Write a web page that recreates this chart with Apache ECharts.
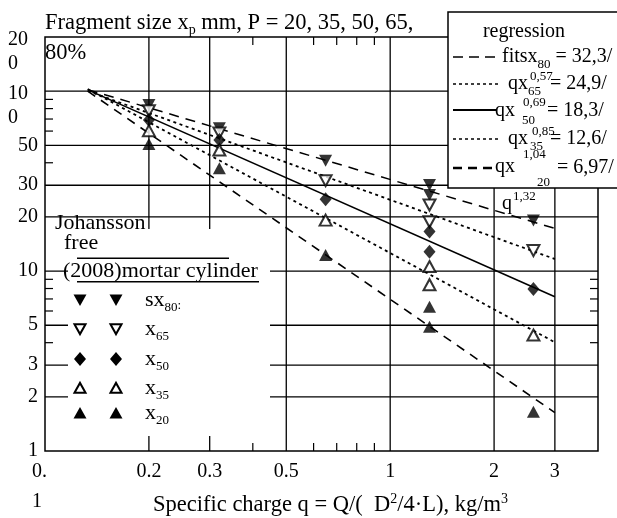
<!DOCTYPE html>
<html>
<head>
<meta charset="utf-8">
<title>Fragment size vs specific charge</title>
<script src="https://cdn.jsdelivr.net/npm/echarts@6.0.0/dist/echarts.min.js"></script>
<style>
html, body { margin: 0; padding: 0; background: #fff; }
#chart { width: 617px; height: 518px; }
</style>
</head>
<body>
<div id="chart"></div>
<script>
// Specific charge of each test blast, kg/m³ (two shots at 1.3)
const charges = [0.2, 0.32, 0.65, 1.3, 1.3, 2.6];
// Passing sizes x_P in mm for P = 80, 65, 50, 35, 20 %
const x80 = [83.8, 62.2, 41.1, 30.1, 26.5, 19.1];
const x65 = [77.9, 58.6, 31.8, 23.3, 18.8, 13.0];
const x50 = [69.2, 53.5, 25.1, 16.6, 12.8, 7.95];
const x35 = [60.3, 47.1, 19.2, 10.6, 8.4, 4.41];
const x20 = [50.9, 37.3, 12.3, 6.34, 4.91, 1.65];

// Regression fits x_P = a / q^b
const fitA = [32.3, 24.9, 18.3, 12.6, 6.97];
const fitB = [0.57, 0.69, 0.85, 1.04, 1.32];
const fitRange = [0.133, 3];

// Axis ticks and labels
const xTickValues = [0.1, 0.2, 0.3, 0.5, 1, 2, 3];
const xTickText = ['0.\n1', '0.2', '0.3', '0.5', '1', '2', '3'];
const xGridValues = [0.2, 0.3, 0.5, 1, 2, 3];
const xMinorValues = [0.4, 0.6, 0.7, 0.8, 0.9];
const yTickValues = [1, 2, 3, 5, 10, 20, 30, 50];
const yTickText = ['1', '2', '3', '5', '10', '20', '30', '50'];
// Three-digit labels wrap onto two lines
const yWrapValues = [100, 200];
const yWrapText = ['10\n0', '20\n0'];
const yGridValues = [2, 3, 5, 10, 20, 30, 50, 100];
const yMinorValues = [4, 6, 7, 8, 9, 40, 60, 70, 80, 90];

const X_MIN = 0.1, X_MAX = 4, Y_MIN = 1, Y_MAX = 200;
const SERIF = "'Liberation Serif', 'Times New Roman', serif";
const INK = '#000';

const measureCtx = document.createElement('canvas').getContext('2d');
function textWidth(t, size) {
  measureCtx.font = size + 'px ' + SERIF;
  return measureCtx.measureText(t).width;
}
function txt(t, x, y, size, align) {
  const a = align || 'left';
  return {
    type: 'text', z: 60,
    style: {
      text: t, x: x, y: y, font: size + 'px ' + SERIF, fill: INK,
      textAlign: a, textVerticalAlign: 'middle', align: a, verticalAlign: 'middle'
    }
  };
}
// A run of text pieces laid out left to right: [text, size, dy]
function run(x, y, parts) {
  const out = [];
  let cx = x;
  parts.forEach(function (p) {
    out.push(txt(p[0], cx, y + (p[2] || 0), p[1]));
    cx += textWidth(p[0], p[1]);
  });
  return out;
}
function runWidth(parts) {
  return parts.reduce(function (s, p) { return s + textWidth(p[0], p[1]); }, 0);
}
function seg(x1, y1, x2, y2, w, dash) {
  return { type: 'line', z: 60, shape: { x1: x1, y1: y1, x2: x2, y2: y2 },
    style: { stroke: INK, lineWidth: w, lineDash: dash || null } };
}

function nearestText(v, values, texts) {
  let best = 0;
  values.forEach(function (t, i) {
    if (Math.abs(Math.log(t) - Math.log(v)) < Math.abs(Math.log(values[best]) - Math.log(v))) best = i;
  });
  return texts[best];
}

// Full-height / full-width grid lines
function gridSeries(vals, vertical) {
  return {
    type: 'custom', silent: true, z: 1, clip: false,
    data: vals.map(function (v) { return vertical ? [v, Y_MIN] : [X_MIN, v]; }),
    renderItem: function (params, api) {
      const v = api.value(vertical ? 0 : 1);
      const a = vertical ? api.coord([v, Y_MIN]) : api.coord([X_MIN, v]);
      const b = vertical ? api.coord([v, Y_MAX]) : api.coord([X_MAX, v]);
      return { type: 'line', shape: { x1: a[0], y1: a[1], x2: b[0], y2: b[1] },
        style: { stroke: INK, lineWidth: 1.3 } };
    }
  };
}
// Short inward ticks on both opposite frame edges
function minorSeries(vals, vertical) {
  const L = 8;
  return {
    type: 'custom', silent: true, z: 1, clip: false,
    data: vals.map(function (v) { return vertical ? [v, Y_MIN] : [X_MIN, v]; }),
    renderItem: function (params, api) {
      const v = api.value(vertical ? 0 : 1);
      const a = vertical ? api.coord([v, Y_MIN]) : api.coord([X_MIN, v]);
      const b = vertical ? api.coord([v, Y_MAX]) : api.coord([X_MAX, v]);
      const st = { stroke: INK, lineWidth: 1.2 };
      return { type: 'group', children: vertical ? [
        { type: 'line', shape: { x1: a[0], y1: a[1], x2: a[0], y2: a[1] - L }, style: st },
        { type: 'line', shape: { x1: b[0], y1: b[1], x2: b[0], y2: b[1] + L }, style: st }
      ] : [
        { type: 'line', shape: { x1: a[0], y1: a[1], x2: a[0] + L, y2: a[1] }, style: st },
        { type: 'line', shape: { x1: b[0], y1: b[1], x2: b[0] - L, y2: b[1] }, style: st }
      ] };
    }
  };
}

const fitStyles = [
  { type: [10, 7], width: 1.5 },
  { type: [3, 3.5], width: 1.8 },
  { type: 'solid', width: 1.6 },
  { type: [3, 3.5], width: 1.8 },
  { type: [9, 7], width: 1.6 }
];
const fitSeries = fitA.map(function (a, i) {
  return {
    type: 'line', z: 3, silent: true, showSymbol: false, symbol: 'none',
    data: fitRange.map(function (q) { return [q, a / Math.pow(q, fitB[i])]; }),
    lineStyle: { color: INK, width: fitStyles[i].width, type: fitStyles[i].type }
  };
});

const markerDefs = [
  { data: x80, symbol: 'triangle', rotate: 180, hollow: false, size: [13, 12] },
  { data: x65, symbol: 'triangle', rotate: 180, hollow: true, size: [12, 11] },
  { data: x50, symbol: 'diamond', rotate: 0, hollow: false, size: [12, 14] },
  { data: x35, symbol: 'triangle', rotate: 0, hollow: true, size: [12, 11] },
  { data: x20, symbol: 'triangle', rotate: 0, hollow: false, size: [13, 12] }
];
const pointSeries = markerDefs.map(function (m) {
  return {
    type: 'scatter', z: 5, silent: true,
    symbol: m.symbol, symbolRotate: m.rotate, symbolSize: m.size,
    data: charges.map(function (q, i) { return [q, m.data[i]]; }),
    itemStyle: m.hollow ? { color: '#fff', borderColor: INK, borderWidth: 2 }
                        : { color: INK, borderWidth: 0 }
  };
});

// Free-standing texts, legend boxes and keys
const g = [];
g.push.apply(g, run(45, 23, [['Fragment size x', 22.5], ['p', 14, 7], [' mm, P = 20, 35, 50, 65,', 22.5]]));
g.push(txt('80%', 45, 53, 22.5));

// Regression legend
g.push({ type: 'rect', z: 50, shape: { x: 448, y: 12, width: 175, height: 176 },
  style: { fill: '#fff', stroke: INK, lineWidth: 1.5 } });
g.push(txt('regression', 524, 32, 20, 'center'));
g.push(seg(453, 57, 500, 57, 1.6, [10, 6]));
g.push.apply(g, run(502, 57, [['fitsx', 20], ['80', 13, 8], [' = 32,3/', 20]]));
g.push(seg(453, 84, 500, 84, 1.6, [3, 3]));
g.push(txt('qx', 508, 84, 20), txt('0,57', 530, 77, 13), txt('65', 528, 92, 13), txt('= 24,9/', 550, 84, 20));
g.push(seg(453, 110, 497, 110, 1.8));
g.push(txt('qx', 495, 111, 20), txt('0,69', 523, 103, 13), txt('50', 522, 121, 13), txt('= 18,3/', 547, 111, 20));
g.push(seg(453, 139, 500, 139, 1.6, [3, 3]));
g.push(txt('qx', 508, 139, 20), txt('0,85', 532, 132, 13), txt('35', 530, 147, 13), txt('= 12,6/', 550, 139, 20));
g.push(seg(453, 168, 497, 168, 2.6, [9, 6]));
g.push(txt('qx', 495, 167, 20), txt('1,04', 523, 155, 13), txt('20', 537, 183, 13), txt('= 6,97/', 557, 168, 20));
g.push(txt('q', 502, 204, 20), txt('1,32', 513, 197, 13));

// Data key
g.push({ type: 'rect', z: 50, shape: { x: 68, y: 229, width: 202, height: 207 },
  style: { fill: '#fff', lineWidth: 0 } });
g.push(txt('Johansson', 55, 223, 22), txt('free', 64, 243, 22), txt('(2008)mortar cylinder', 63, 271, 22));
g.push(seg(77, 258.3, 229, 258.3, 1.6), seg(77, 281.7, 259, 281.7, 1.6));
const keyRows = [300, 329, 359, 388, 413];
const keyCols = [80, 116];
function keyShape(k, cx, cy) {
  let pts;
  if (k === 2) pts = [[cx, cy - 7], [cx + 6, cy], [cx, cy + 7], [cx - 6, cy]];
  else if (k < 2) pts = [[cx - 6.5, cy - 5.5], [cx + 6.5, cy - 5.5], [cx, cy + 6]];
  else pts = [[cx - 6.5, cy + 5.5], [cx + 6.5, cy + 5.5], [cx, cy - 6]];
  const hollow = (k === 1 || k === 3);
  if (hollow) pts = pts.map(function (p) { return [cx + (p[0] - cx) * 0.85, cy + (p[1] - cy) * 0.85]; });
  return { type: 'polygon', z: 60, shape: { points: pts },
    style: hollow ? { fill: '#fff', stroke: INK, lineWidth: 2 } : { fill: INK, lineWidth: 0 } };
}
const keyLabels = [[['sx', 22], ['80', 13, 8], [':', 13, 6]], [['x', 22], ['65', 13, 8]],
  [['x', 22], ['50', 13, 8]], [['x', 22], ['35', 13, 8]], [['x', 22], ['20', 13, 8]]];
keyRows.forEach(function (y, k) {
  keyCols.forEach(function (x) { g.push(keyShape(k, x, y)); });
  g.push.apply(g, run(145, y, keyLabels[k]));
});

// Axis title
const titleParts = [['Specific charge q = Q/(  D', 22.5], ['2', 14, -6], ['/4·L), kg/m', 22.5], ['3', 14, -6]];
g.push.apply(g, run(330.5 - runWidth(titleParts) / 2, 505, titleParts));

const labelFont = { fontFamily: SERIF, fontSize: 20, color: INK };

// Left log axis; each wrapped label sits on its own overlay axis so the
// tall two-line blocks never compete with each other for space
function yAxisFor(values, formatter, rich) {
  return {
    type: 'log', logBase: 10, min: Y_MIN, max: Y_MAX, position: 'left',
    axisLine: { show: false }, splitLine: { show: false }, minorTick: { show: false },
    axisTick: { show: false, customValues: values },
    axisLabel: Object.assign({
      customValues: values, margin: 7,
      showMinLabel: true, showMaxLabel: true, hideOverlap: false,
      formatter: formatter, rich: rich
    }, labelFont)
  };
}
const plainY = yAxisFor(yTickValues, function (v) { return nearestText(v, yTickValues, yTickText); });
const wrapRich = {
  e: { lineHeight: 30, fontSize: 10 },
  w: { width: 30, align: 'left', lineHeight: 24, fontFamily: SERIF, fontSize: 20, color: INK }
};
const wrapY = yWrapValues.map(function (val, i) {
  return yAxisFor([val], function () {
    return '{e| }\n' + yWrapText[i].split('\n').map(function (s) { return '{w|' + s + '}'; }).join('\n');
  }, wrapRich);
});

const option = {
  backgroundColor: '#fff',
  animation: false,
  grid: { left: 45, right: 19, top: 37, bottom: 67, show: true, borderColor: INK, borderWidth: 1.5,
    backgroundColor: 'transparent' },
  xAxis: {
    type: 'log', logBase: 10, min: X_MIN, max: X_MAX,
    axisLine: { show: false }, splitLine: { show: false }, minorTick: { show: false },
    axisTick: { show: false, customValues: xTickValues },
    axisLabel: Object.assign({
      customValues: xTickValues, margin: 6, lineHeight: 30,
      showMinLabel: true, showMaxLabel: true, hideOverlap: false,
      formatter: function (v) {
        const t = nearestText(v, xTickValues, xTickText);
        return t.indexOf('\n') >= 0 ? t.split('\n').map(function (s) { return '{w|' + s + '}'; }).join('\n') : t;
      },
      rich: { w: { width: 26, align: 'left', lineHeight: 30, fontFamily: SERIF, fontSize: 20, color: INK } }
    }, labelFont)
  },
  yAxis: [plainY].concat(wrapY),
  graphic: { elements: g },
  series: [
    gridSeries(xGridValues, true),
    gridSeries(yGridValues, false),
    minorSeries(xMinorValues, true),
    minorSeries(yMinorValues, false)
  ].concat(fitSeries, pointSeries)
};

const chart = echarts.init(document.getElementById('chart'), null, { renderer: 'canvas' });
chart.setOption(option);
</script>
</body>
</html>
